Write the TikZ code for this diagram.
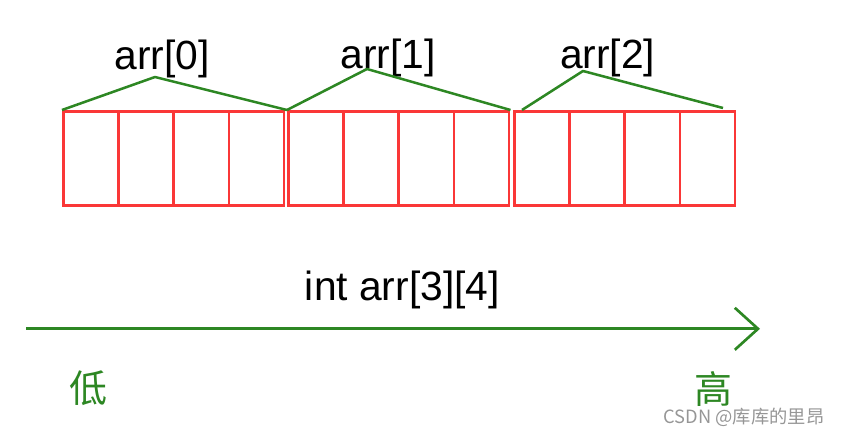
\documentclass[tikz,border=0pt]{standalone}
\usepackage{fontspec}
\setmainfont{Liberation Sans}
\newfontfamily\cjk{Noto Sans CJK SC}
\usepackage{xcolor}
\usepackage{tikz}
\usetikzlibrary{arrows.meta, positioning}

\definecolor{cellred}{RGB}{250,55,55}
\definecolor{rowgreen}{RGB}{45,135,35}
\definecolor{markgray}{RGB}{150,150,150}

\begin{document}
\begin{tikzpicture}[
    cell/.style={rectangle, draw=cellred, line width=1.9pt, inner sep=0pt,
                 minimum width=1.38cm, minimum height=2.35cm, anchor=north west},
    rowline/.style={draw=rowgreen, line width=1.8pt, line join=round},
    lbl/.style={inner sep=0pt, font=\fontsize{29}{32}\selectfont},
    axis/.style={-{Straight Barb[length=0.58cm, width=1.05cm]}, draw=rowgreen, line width=1.9pt},
    tag/.style={inner sep=0pt, text=rowgreen, font=\cjk\fontsize{27}{30}\selectfont}
]
\useasboundingbox (0,0) rectangle (21.1,10.85);

% the 3 rows, 4 ints each
\foreach \r/\x in {0/1.55, 1/7.175, 2/12.825}
  \foreach \c in {0,...,3}
    \node[cell] (c\r\c) at (\x+\c*1.38, 8.1) {};

\node[lbl] (row0) at (4.05,9.37)  {arr[0]};
\node[lbl] (row1) at (9.70,9.39)  {arr[1]};
\node[lbl] (row2) at (15.19,9.39) {arr[2]};

\coordinate (top0) at (3.875,8.925);
\coordinate (top1) at (9.175,9.125);
\coordinate (top2) at (14.575,9.075);
\coordinate (g2a)  at (13.05,8.1);
\coordinate (g2b)  at (18.075,8.15);

\draw[rowline] (c00.north west) -- (top0) -- (c10.north west);
\draw[rowline] (c10.north west) -- (top1) -- (c13.north east);
\draw[rowline] (g2a) -- (top2) -- (g2b);

% address direction
\node[lbl] (decl) at (10.06,3.6) {int arr[3][4]};
\coordinate (lo) at (0.65,2.63);
\coordinate (hi) at (19.0,2.63);
\draw[axis] (lo) -- (hi);

\node[tag] (low)  at (2.2,1.15)   {低};
\node[tag] (high) at (17.83,1.12) {高};

\node[inner sep=0pt, text=markgray, font=\cjk\fontsize{13}{15}\selectfont] (mark) at (18.6,0.42) {CSDN @库库的里昂};
\end{tikzpicture}
\end{document}
